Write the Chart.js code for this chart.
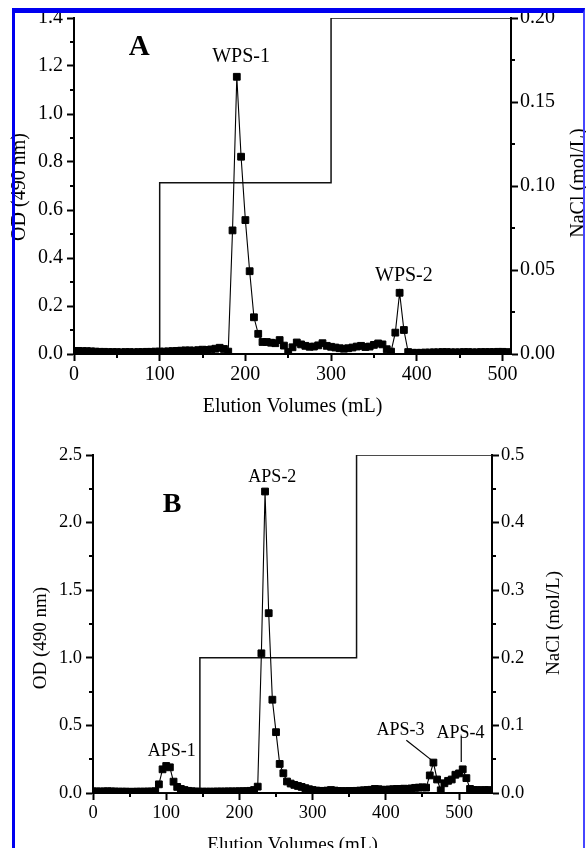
<!DOCTYPE html>
<html>
<head>
<meta charset="utf-8">
<script src="https://cdn.jsdelivr.net/npm/chart.js@4.4.1/dist/chart.umd.min.js"></script>
<style>
html,body{margin:0;padding:0;width:586px;height:848px;overflow:hidden;background:#fff;}
#wrapA{position:absolute;left:0;top:0;width:586px;height:420px;}
#wrapB{position:absolute;left:0;top:420px;width:586px;height:440px;}
#frame{position:absolute;left:12px;top:8px;width:573px;height:900px;box-sizing:border-box;
  border-top:5px solid #0000f0;border-left:3px solid #0000f0;border-right:2px solid #4646ff;pointer-events:none;}
</style>
</head>
<body>
<div id="wrapA"><canvas id="chartA" width="586" height="420"></canvas></div>
<div id="wrapB"><canvas id="chartB" width="586" height="440"></canvas></div>
<div id="frame"></div>
<script>
// ---------- Panel A data ----------
const volumeA = [0,5,10,15,20,25,30,35,40,45,50,55,60,65,70,75,80,85,90,95,
  100,105,110,115,120,125,130,135,140,145,150,155,160,165,170,175,180,185,190,195,
  200,205,210,215,220,225,230,235,240,245,250,255,260,265,270,275,280,285,290,295,
  300,305,310,315,320,325,330,335,340,345,350,355,360,365,370,375,380,385,390,395,
  400,405,410,415,420,425,430,435,440,445,450,455,460,465,470,475,480,485,490,495,
  500,505];
const odA = [0.012,0.013,0.012,0.012,0.011,0.010,0.009,0.009,0.008,0.008,0.008,0.007,0.008,0.008,0.007,0.008,0.008,0.009,0.009,0.010,
  0.010,0.010,0.011,0.012,0.013,0.014,0.015,0.015,0.014,0.016,0.018,0.017,0.019,0.022,0.026,0.021,0.010,0.515,1.155,0.822,
  0.558,0.345,0.153,0.084,0.050,0.050,0.047,0.045,0.058,0.035,0.008,0.028,0.048,0.040,0.034,0.030,0.031,0.036,0.045,0.034,
  0.030,0.027,0.024,0.022,0.024,0.027,0.031,0.034,0.029,0.031,0.038,0.044,0.040,0.020,0.010,0.089,0.255,0.100,0.008,0.005,
  0.005,0.005,0.006,0.006,0.007,0.007,0.008,0.008,0.007,0.007,0.007,0.008,0.008,0.007,0.007,0.008,0.008,0.008,0.008,0.009,
  0.009,0.008];
const naclVolumeA = [0,100,300,510];
const naclA = [0,0.102,0.2,0.2];
const xTicksA = [0,100,200,300,400,500];
const odTicksA = [0,0.2,0.4,0.6,0.8,1.0,1.2,1.4];
const naclTicksA = [0,0.05,0.10,0.15,0.20];

// ---------- Panel B data ----------
const volumeB = [0,5,10,15,20,25,30,35,40,45,50,55,60,65,70,75,80,85,90,95,
  100,105,110,115,120,125,130,135,140,145,150,155,160,165,170,175,180,185,190,195,
  200,205,210,215,220,225,230,235,240,245,250,255,260,265,270,275,280,285,290,295,
  300,305,310,315,320,325,330,335,340,345,350,355,360,365,370,375,380,385,390,395,
  400,405,410,415,420,425,430,435,440,445,450,455,460,465,470,475,480,485,490,495,
  500,505,510,515,520,525,530,535,540];
const odB = [0.012,0.012,0.011,0.012,0.013,0.012,0.011,0.010,0.010,0.010,0.009,0.009,0.010,0.010,0.010,0.011,0.011,0.013,0.064,0.175,
  0.200,0.190,0.084,0.045,0.030,0.022,0.016,0.013,0.011,0.010,0.010,0.010,0.010,0.010,0.011,0.011,0.011,0.012,0.012,0.012,
  0.013,0.013,0.014,0.016,0.022,0.047,1.033,2.230,1.330,0.690,0.450,0.215,0.146,0.085,0.070,0.060,0.052,0.045,0.036,0.028,
  0.022,0.018,0.016,0.015,0.018,0.022,0.018,0.015,0.014,0.014,0.015,0.015,0.016,0.018,0.020,0.022,0.024,0.030,0.028,0.024,
  0.024,0.026,0.028,0.030,0.030,0.032,0.030,0.034,0.038,0.040,0.042,0.040,0.130,0.225,0.100,0.020,0.072,0.090,0.100,0.135,
  0.145,0.175,0.110,0.030,0.022,0.022,0.020,0.022,0.022];
const naclVolumeB = [0,146,360,545];
const naclB = [0,0.2,0.5,0.5];
const xTicksB = [0,100,200,300,400,500];
const odTicksB = [0,0.5,1.0,1.5,2.0,2.5];
const naclTicksB = [0,0.1,0.2,0.3,0.4,0.5];

// ---------- shared styling ----------
const FONT = "'Liberation Serif', 'Times New Roman', serif";
Chart.defaults.font.family = FONT;
Chart.defaults.color = '#000';
Chart.defaults.animation = false;

const pts = (xs, ys) => xs.map((x, i) => ({x: x, y: ys[i]}));

// Minor ticks, panel texts, leader lines and vertical axis titles
const decor = {
  id: 'decor',
  afterDraw(chart, args, o) {
    const ctx = chart.ctx;
    const sx = chart.scales.x, sy = chart.scales.y, sy1 = chart.scales.y1;
    ctx.save();
    ctx.strokeStyle = '#000';
    ctx.lineWidth = 2;
    const mids = s => { const t = s.ticks, m = []; for (let i = 0; i + 1 < t.length; i++) m.push((t[i].value + t[i+1].value) / 2); return m; };
    ctx.beginPath();
    mids(sx).forEach(v => { const p = Math.round(sx.getPixelForValue(v)); ctx.moveTo(p, sx.top); ctx.lineTo(p, sx.top + 4); });
    mids(sy).forEach(v => { const p = Math.round(sy.getPixelForValue(v)); ctx.moveTo(sy.right - 4, p); ctx.lineTo(sy.right, p); });
    mids(sy1).forEach(v => { const p = Math.round(sy1.getPixelForValue(v)); ctx.moveTo(sy1.left, p); ctx.lineTo(sy1.left + 4, p); });
    ctx.stroke();
    ctx.lineWidth = 1.2;
    (o.leaders || []).forEach(l => {
      ctx.beginPath();
      ctx.moveTo(sx.getPixelForValue(l[0]), sy.getPixelForValue(l[1]));
      ctx.lineTo(sx.getPixelForValue(l[2]), sy.getPixelForValue(l[3]));
      ctx.stroke();
    });
    ctx.fillStyle = '#000';
    ctx.textAlign = 'center';
    ctx.textBaseline = 'middle';
    (o.texts || []).forEach(t => {
      ctx.font = (t.bold ? 'bold ' : '') + t.size + 'px ' + FONT;
      ctx.fillText(t.text, sx.getPixelForValue(t.x), sy.getPixelForValue(t.y));
    });
    (o.vtitles || []).forEach(t => {
      ctx.save();
      ctx.translate(t.px, t.py);
      ctx.rotate(-Math.PI / 2);
      ctx.font = t.size + 'px ' + FONT;
      ctx.fillText(t.text, 0, 0);
      ctx.restore();
    });
    ctx.restore();
  }
};

function axis(pos, min, max, tickVals, digits, size, fontSize, pad) {
  const a = {
    type: 'linear', position: pos, min: min, max: max,
    afterBuildTicks: s => { s.ticks = tickVals.map(v => ({value: v})); },
    ticks: {
      autoSkip: false, maxRotation: 0, padding: pad, color: '#000',
      font: {size: fontSize, family: FONT},
      callback: v => (digits === null ? String(v) : Number(v).toFixed(digits))
    },
    grid: {drawOnChartArea: false, drawTicks: true, tickLength: 7, tickWidth: 2, tickColor: '#000'},
    border: {display: true, color: '#000', width: 2}
  };
  if (pos === 'bottom') a.afterFit = s => { s.height = size; };
  else a.afterFit = s => { s.width = size; };
  return a;
}

function makeChart(id, d) {
  const xAxis = axis('bottom', 0, d.xMax, d.xTicks, null, d.xHeight, d.tickSize, 2);
  xAxis.title = {display: true, text: 'Elution Volumes (mL)', color: '#000',
    font: {size: d.titleSize, family: FONT}, padding: {top: 0, bottom: d.titlePad}};
  return new Chart(document.getElementById(id), {
    type: 'line',
    data: {
      datasets: [
        {
          label: 'OD (490 nm)', data: pts(d.vol, d.od), yAxisID: 'y',
          borderColor: '#000', borderWidth: 1.1, tension: 0,
          pointStyle: 'rect', pointRadius: 4.8, pointBackgroundColor: '#000',
          pointBorderColor: '#000', pointBorderWidth: 1, pointHoverRadius: 4.8
        },
        {
          label: 'NaCl (mol/L)', data: pts(d.naclVol, d.nacl), yAxisID: 'y1',
          borderColor: '#111', borderWidth: 1.5, stepped: 'before',
          pointRadius: 0, pointHoverRadius: 0
        }
      ]
    },
    options: {
      responsive: false, devicePixelRatio: 1, animation: false,
      layout: {padding: {left: 0, right: 0, top: d.padTop, bottom: 0}},
      plugins: {
        legend: {display: false}, tooltip: {enabled: false},
        decor: {texts: d.texts, leaders: d.leaders, vtitles: d.vtitles}
      },
      scales: {
        x: xAxis,
        y: axis('left', 0, d.odMax, d.odTicks, 1, d.leftW, d.tickSize, 4),
        y1: axis('right', 0, d.naclMax, d.naclTicks, d.naclDigits, d.rightW, d.tickSize, 2)
      }
    },
    plugins: [decor]
  });
}

makeChart('chartA', {
  vol: volumeA, od: odA, naclVol: naclVolumeA, nacl: naclA,
  xMax: 510, xTicks: xTicksA, odMax: 1.4, odTicks: odTicksA, naclMax: 0.2, naclTicks: naclTicksA, naclDigits: 2,
  padTop: 18, xHeight: 66, leftW: 74, rightW: 75, tickSize: 20, titleSize: 20, titlePad: 1,
  texts: [
    {text: 'A', x: 76, y: 1.275, size: 29, bold: true},
    {text: 'WPS-1', x: 195, y: 1.238, size: 20},
    {text: 'WPS-2', x: 385, y: 0.325, size: 20}
  ],
  leaders: [],
  vtitles: [
    {text: 'OD (490 nm)', px: 20, py: 187, size: 20},
    {text: 'NaCl (mol/L)', px: 579, py: 183, size: 20}
  ]
});

makeChart('chartB', {
  vol: volumeB, od: odB, naclVol: naclVolumeB, nacl: naclB,
  xMax: 545, xTicks: xTicksB, odMax: 2.5, odTicks: odTicksB, naclMax: 0.5, naclTicks: naclTicksB, naclDigits: 1,
  padTop: 35, xHeight: 67, leftW: 93, rightW: 94, tickSize: 18.5, titleSize: 19, titlePad: 4,
  texts: [
    {text: 'B', x: 108, y: 2.13, size: 28, bold: true},
    {text: 'APS-2', x: 245, y: 2.337, size: 18},
    {text: 'APS-1', x: 107.5, y: 0.305, size: 18},
    {text: 'APS-3', x: 420, y: 0.466, size: 18},
    {text: 'APS-4', x: 502, y: 0.444, size: 18}
  ],
  leaders: [[428, 0.39, 462, 0.245], [503, 0.417, 503, 0.23]],
  vtitles: [
    {text: 'OD (490 nm)', px: 41.5, py: 218, size: 19},
    {text: 'NaCl (mol/L)', px: 554, py: 203, size: 19}
  ]
});
</script>
</body>
</html>
